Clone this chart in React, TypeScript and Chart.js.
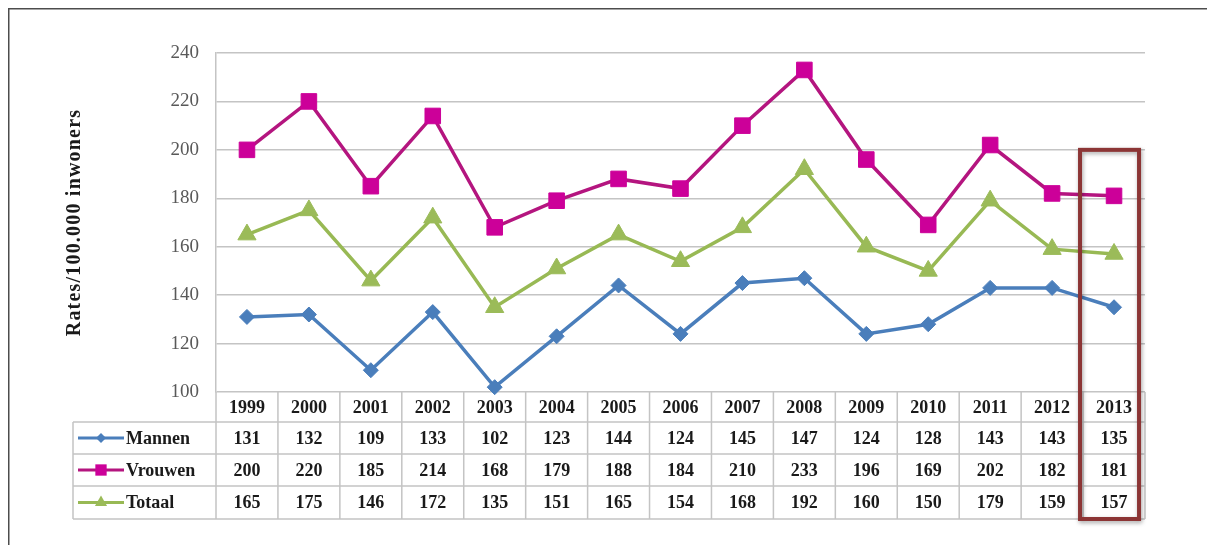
import React, { useEffect, useRef } from "react";
import { Chart, registerables } from "chart.js";

Chart.register(...registerables);

// Yearly rates per 100.000 inhabitants
const years = ["1999", "2000", "2001", "2002", "2003", "2004", "2005", "2006", "2007", "2008", "2009", "2010", "2011", "2012", "2013"];
const mannen = [131, 132, 109, 133, 102, 123, 144, 124, 145, 147, 124, 128, 143, 143, 135];
const vrouwen = [200, 220, 185, 214, 168, 179, 188, 184, 210, 233, 196, 169, 202, 182, 181];
const totaal = [165, 175, 146, 172, 135, 151, 165, 154, 168, 192, 160, 150, 179, 159, 157];
const seriesNames = ["Mannen", "Vrouwen", "Totaal"];
const yTicks = [100, 120, 140, 160, 180, 200, 220, 240];
const yTitle = "Rates/100.000 inwoners";
const highlightYear = "2013";

const W = 1199;
const H = 537;
const SERIF = "'Liberation Serif', 'Times New Roman', Times, serif";
const GRID = "#c4c4c4";

const styles = [
  { line: "#4A7EBB", fill: "#4A7EBB", shape: "rectRot", r: 7.5, lr: 5 },
  { line: "#B4157F", fill: "#CC0099", shape: "rect", r: 11, lr: 8 },
  { line: "#98B954", fill: "#9BBB59", shape: "triangle", r: 10.5, lr: 7 },
];

function drawMarker(ctx: CanvasRenderingContext2D, shape: string, r: number, x: number, y: number) {
  ctx.beginPath();
  if (shape === "rect") {
    const s = r * Math.SQRT1_2;
    ctx.rect(x - s, y - s, 2 * s, 2 * s);
  } else if (shape === "rectRot") {
    ctx.moveTo(x - r, y);
    ctx.lineTo(x, y - r);
    ctx.lineTo(x + r, y);
    ctx.lineTo(x, y + r);
    ctx.closePath();
  } else {
    ctx.moveTo(x, y - r);
    ctx.lineTo(x + r * 0.866, y + r * 0.5);
    ctx.lineTo(x - r * 0.866, y + r * 0.5);
    ctx.closePath();
  }
  ctx.fill();
}

// Data table under the plot, plus axis title, frame and highlight box
const tablePlugin = {
  id: "dataTable",
  afterDraw(chart: any) {
    const ctx = chart.ctx as CanvasRenderingContext2D;
    const xs = chart.scales.x;
    const ys = chart.scales.y;
    const area = chart.chartArea;
    const colW = (area.right - area.left) / years.length;
    const headerTop = area.bottom;
    const rowH = [30, 32, 32, 33];
    const rowTops = [headerTop];
    for (let i = 0; i < rowH.length; i++) rowTops.push(rowTops[i] + rowH[i]);
    const tableBottom = rowTops[rowTops.length - 1];
    const labelLeft = 65;

    ctx.save();
    // outer frame
    ctx.strokeStyle = "#4d4d4d";
    ctx.lineWidth = 1.5;
    ctx.beginPath();
    ctx.moveTo(0.75, H);
    ctx.lineTo(0.75, 0.75);
    ctx.lineTo(W, 0.75);
    ctx.stroke();

    // table grid
    ctx.strokeStyle = GRID;
    ctx.lineWidth = 1.5;
    ctx.beginPath();
    for (let i = 1; i < rowTops.length; i++) {
      ctx.moveTo(labelLeft, rowTops[i]);
      ctx.lineTo(area.right, rowTops[i]);
    }
    ctx.moveTo(labelLeft, rowTops[1]);
    ctx.lineTo(labelLeft, tableBottom);
    for (let c = 0; c <= years.length; c++) {
      const x = area.left + c * colW;
      ctx.moveTo(x, headerTop);
      ctx.lineTo(x, tableBottom);
    }
    ctx.stroke();

    // header years and values
    ctx.fillStyle = "#1a1a1a";
    ctx.textAlign = "center";
    ctx.textBaseline = "middle";
    ctx.font = `bold 18px ${SERIF}`;
    const series = [mannen, vrouwen, totaal];
    years.forEach((yr, i) => {
      const cx = xs.getPixelForValue(i);
      ctx.fillText(yr, cx, rowTops[0] + rowH[0] / 2 + 1);
      series.forEach((s, k) => {
        ctx.fillText(String(s[i]), cx, rowTops[k + 1] + rowH[k + 1] / 2 + 1);
      });
    });

    // row labels with legend keys
    seriesNames.forEach((name, k) => {
      const cy = rowTops[k + 1] + rowH[k + 1] / 2;
      const st = styles[k];
      ctx.strokeStyle = st.line;
      ctx.lineWidth = 3;
      ctx.beginPath();
      ctx.moveTo(70, cy);
      ctx.lineTo(116, cy);
      ctx.stroke();
      ctx.fillStyle = st.fill;
      drawMarker(ctx, st.shape, st.lr, 93, cy);
      ctx.fillStyle = "#1a1a1a";
      ctx.textAlign = "left";
      ctx.font = `bold 18px ${SERIF}`;
      ctx.fillText(name, 118, cy + 1);
    });

    // axis title
    ctx.save();
    ctx.translate(67, (area.top + area.bottom) / 2);
    ctx.rotate(-Math.PI / 2);
    ctx.fillStyle = "#1a1a1a";
    ctx.textAlign = "center";
    ctx.textBaseline = "middle";
    ctx.font = `bold 20px ${SERIF}`;
    (ctx as any).letterSpacing = "1.2px";
    ctx.fillText(yTitle, 0, 0);
    ctx.restore();

    // highlight box around the latest year
    const hi = years.indexOf(highlightYear);
    const hx = xs.getPixelForValue(hi);
    const top = ys.getPixelForValue(200);
    ctx.shadowColor = "rgba(0,0,0,0.35)";
    ctx.shadowBlur = 4;
    ctx.shadowOffsetX = 1;
    ctx.shadowOffsetY = 2;
    ctx.strokeStyle = "#8C3535";
    ctx.lineWidth = 4;
    ctx.strokeRect(hx - 34, top, 59, tableBottom - top);
    ctx.restore();
  },
};

export default function App() {
  const ref = useRef<HTMLCanvasElement | null>(null);

  useEffect(() => {
    if (!ref.current) return;
    const data = [mannen, vrouwen, totaal];
    const chart = new Chart(ref.current, {
      type: "line",
      data: {
        labels: years,
        datasets: seriesNames.map((name, k) => ({
          label: name,
          data: data[k],
          borderColor: styles[k].line,
          backgroundColor: styles[k].fill,
          pointBackgroundColor: styles[k].fill,
          pointBorderColor: styles[k].fill,
          pointBorderWidth: 1,
          pointStyle: styles[k].shape as any,
          pointRadius: styles[k].r,
          borderWidth: 3.5,
          tension: 0,
          clip: false as any,
        })),
      },
      options: {
        responsive: false,
        animation: false,
        devicePixelRatio: 1,
        layout: { padding: { left: 0, top: 45, right: 62, bottom: 153 } },
        plugins: { legend: { display: false }, tooltip: { enabled: false }, title: { display: false } },
        scales: {
          x: {
            type: "category",
            offset: true,
            display: false,
            grid: { display: false },
          },
          y: {
            min: 100,
            max: 240,
            afterFit: (s: any) => {
              s.width = 208;
            },
            afterBuildTicks: (s: any) => {
              s.ticks = yTicks.map((v) => ({ value: v }));
            },
            border: { display: true, color: GRID, width: 1.5 },
            grid: { color: GRID, lineWidth: 1.5, drawTicks: false },
            ticks: {
              padding: 17,
              color: "#595959",
              font: { family: SERIF, size: 19 },
            },
          },
        },
      },
      plugins: [tablePlugin],
    });
    return () => chart.destroy();
  }, []);

  return (
    <div style={{ position: "relative", width: W, height: H }}>
      <canvas ref={ref} width={W} height={H} style={{ display: "block", width: W, height: H }} />
    </div>
  );
}
